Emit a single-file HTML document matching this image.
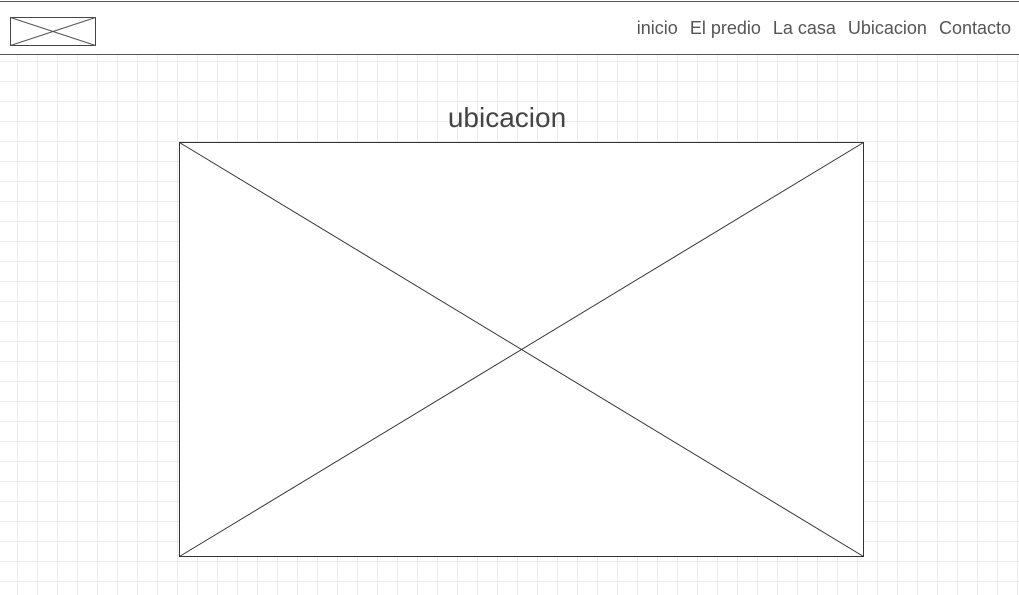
<!DOCTYPE html>
<html><head><meta charset="utf-8"><style>
html,body{margin:0;padding:0;width:1019px;height:595px;overflow:hidden;background:#fff;font-family:"Liberation Sans",sans-serif;}
.grid{position:absolute;left:0;top:55px;width:1019px;height:540px;
background-image:linear-gradient(to right,#ebebeb 1px,transparent 1px),linear-gradient(to bottom,#ebebeb 1px,transparent 1px);
background-size:20px 20px;background-position:17px 6px;}
.header{position:absolute;left:0;top:1px;width:1019px;height:52px;border-top:1px solid #555;border-bottom:1px solid #555;background:#fff;}
.nav{position:absolute;right:8px;top:16px;font-size:18px;color:#555;white-space:nowrap;}
.nav span{margin-left:12px;}
.title{position:absolute;left:0;width:1014px;top:102px;text-align:center;font-size:28px;color:#444;}
svg{position:absolute;}
</style></head><body>
<div class="grid"></div>
<div class="header">
<svg style="left:10px;top:15px" width="87" height="30"><rect x="0.5" y="0.5" width="85" height="28" fill="#fff" stroke="#444"/><line x1="0.5" y1="0.5" x2="85.5" y2="28.5" stroke="#555"/><line x1="0.5" y1="28.5" x2="85.5" y2="0.5" stroke="#555"/></svg>
<div class="nav"><span>inicio</span><span>El predio</span><span>La casa</span><span>Ubicacion</span><span>Contacto</span></div>
</div>
<div class="title">ubicacion</div>
<svg style="left:179px;top:142px" width="686" height="416"><rect x="0.5" y="0.5" width="684" height="414" fill="#fff" stroke="#333"/><line x1="0.5" y1="0.5" x2="684.5" y2="414.5" stroke="#333"/><line x1="0.5" y1="414.5" x2="684.5" y2="0.5" stroke="#333"/></svg>
</body></html>
